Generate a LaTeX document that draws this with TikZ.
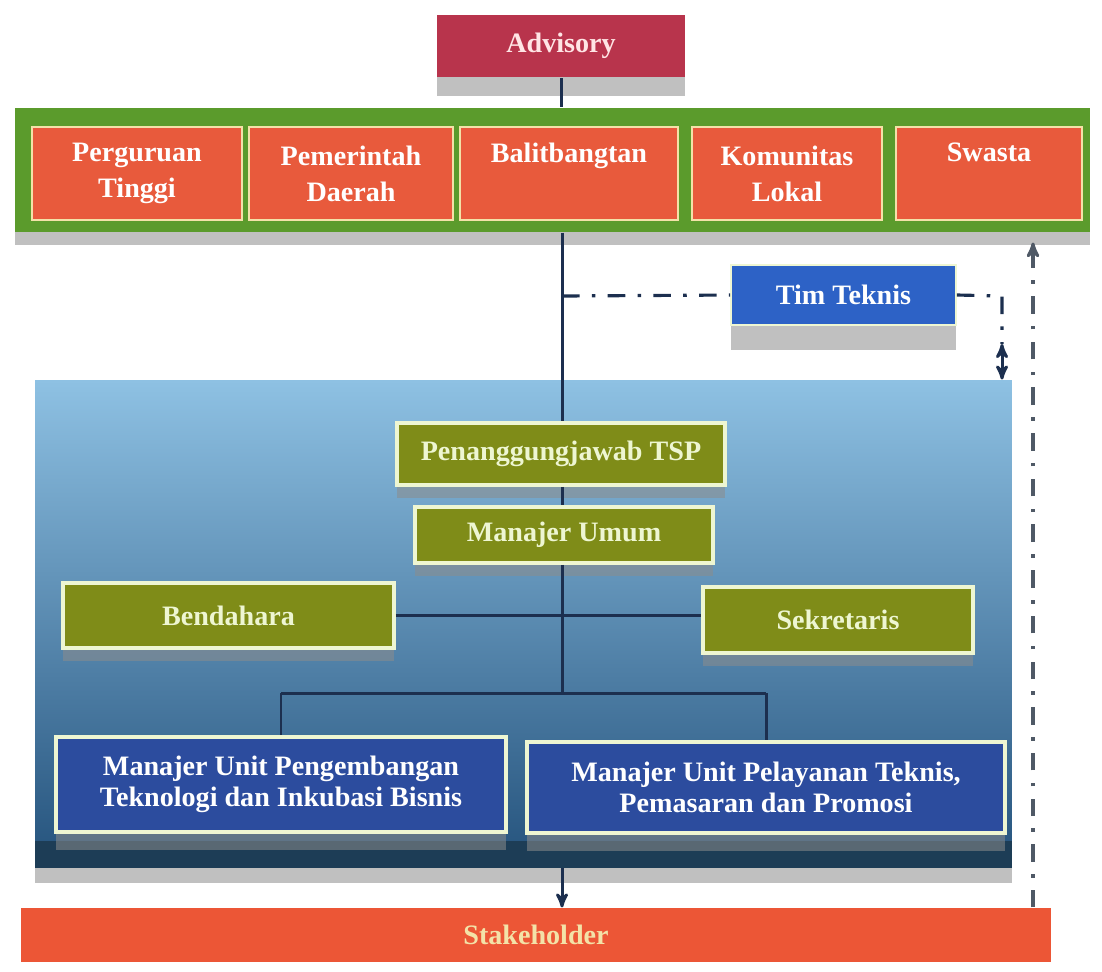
\documentclass[tikz,border=0pt]{standalone}
\usepackage{fontspec}
\setmainfont{Liberation Serif}
\usetikzlibrary{arrows,positioning,shadows}

\definecolor{advred}{HTML}{B8344C}
\definecolor{bandgreen}{HTML}{5B9B2C}
\definecolor{orangefill}{HTML}{E85A3C}
\definecolor{orangeline}{HTML}{F3E2A8}
\definecolor{olivefill}{HTML}{7F8C18}
\definecolor{oliveline}{HTML}{EEF6D2}
\definecolor{unitblue}{HTML}{2C4C9E}
\definecolor{teknisblue}{HTML}{2D62C6}
\definecolor{paneltop}{HTML}{8EC1E3}
\definecolor{panelmid}{HTML}{5B93C2}
\definecolor{panelbot}{HTML}{24527C}
\definecolor{paneldark}{HTML}{1D3D56}
\definecolor{stakered}{HTML}{EC5636}
\definecolor{navyline}{HTML}{1C2F4F}
\definecolor{dashgray}{HTML}{4F5966}

\begin{document}
\begin{tikzpicture}[x=0.02cm, y=-0.02cm, >=stealth', semithick,
    box/.style={rectangle, inner sep=0pt, align=center, text=white,
        font=\bfseries\fontsize{16}{20.5}\selectfont},
    shade below/.style={general shadow={fill=black!45, opacity=.55, shadow yshift=#1}},
    orangebox/.style={box, fill=orangefill, draw=orangeline, line width=1.6pt, minimum height=1.86cm},
    olivebox/.style={box, fill=olivefill, draw=oliveline, line width=2.2pt, text=oliveline, shade below=-0.25cm},
    unitbox/.style={box, fill=unitblue, draw=oliveline, line width=2.2pt,
        font=\bfseries\fontsize{16}{17.5}\selectfont, shade below=-0.35cm},
    orgline/.style={draw=navyline, line width=1.7pt},
    dashline/.style={line width=1.8pt, dash pattern=on 10pt off 7pt on 2pt off 7pt}]

    \useasboundingbox (0,0) rectangle (1102,971);

    \node[box, fill=advred, minimum width=4.96cm, minimum height=1.26cm, shade below=-0.38cm,
          text=pink!40] (advisory) at (561,46) {Advisory};
    \node[rectangle, fill=bandgreen, minimum width=21.5cm, minimum height=2.48cm, shade below=-0.26cm]
          (band) at (552.5,170) {};
    \node[orangebox, minimum width=4.2cm]  (pt)        at (137,173.5) {Perguruan\\Tinggi};
    \node[orangebox, minimum width=4.08cm] (pemda)     at (351,173.5) {Pemerintah\\Daerah};
    \node[orangebox, minimum width=4.36cm] (balit)     at (569,173.5) {Balitbangtan\\\phantom{Xg}};
    \node[orangebox, minimum width=3.8cm]  (komunitas) at (787,173.5) {Komunitas\\Lokal};
    \node[orangebox, minimum width=3.72cm] (swasta)    at (989,173.5) {Swasta\\\phantom{Xg}};

    \node[box, fill=teknisblue, draw=oliveline, line width=1pt, minimum width=4.5cm, minimum height=1.2cm,
          shade below=-0.5cm] (timteknis) at (843.5,295) {Tim Teknis};

    \node[rectangle, top color=paneltop, middle color=panelmid, bottom color=panelbot,
          minimum width=19.54cm, minimum height=9.76cm, shade below=-0.3cm] (panel) at (523.5,624) {};
    \fill[paneldark] (panel.south west) rectangle ([yshift=0.56cm]panel.south east);

    \node[olivebox, minimum width=6.56cm, minimum height=1.24cm] (pj)         at (561,454)    {Penanggungjawab TSP};
    \node[olivebox, minimum width=5.96cm, minimum height=1.12cm] (umum)       at (564,535)    {Manajer Umum};
    \node[olivebox, minimum width=6.62cm, minimum height=1.3cm]  (bendahara)  at (228.5,615.5) {Bendahara};
    \node[olivebox, minimum width=5.4cm,  minimum height=1.32cm] (sekretaris) at (838,620)    {Sekretaris};
    \node[unitbox, minimum width=9.0cm,  minimum height=1.9cm]  (unitpt) at (281,784.5)
          {Manajer Unit Pengembangan\\Teknologi dan Inkubasi Bisnis};
    \node[unitbox, minimum width=9.56cm, minimum height=1.82cm] (unitpp) at (766,787.5)
          {Manajer Unit Pelayanan Teknis,\\Pemasaran dan Promosi};

    \node[box, fill=stakered, minimum width=20.6cm, minimum height=1.08cm, text=orangeline]
          (stakeholder) at (536,935) {Stakeholder};

    \coordinate (ttjoin)   at (562,296);
    \coordinate (ttcorner) at (1002,296);
    \coordinate (ttarrow)  at (1002,344);
    \coordinate (fork)     at (562,693);
    \coordinate (rline)    at (1033,0);

    \path[orgline] (advisory.south) edge (advisory.south |- band.north)
                   (band.south -| ttjoin) edge (pj.north -| ttjoin)
                   (pj.south -| ttjoin) edge (umum.north -| ttjoin)
                   (umum.south -| ttjoin) edge (fork)
                   (bendahara.east) edge (bendahara.east -| sekretaris.west)
                   (unitpt.north |- fork) edge (unitpp.north |- fork)
                   (unitpt.north |- fork) edge (unitpt.north)
                   (unitpp.north |- fork) edge (unitpp.north);
    \draw[orgline, ->] (panel.south -| ttjoin) -- (stakeholder.north -| ttjoin);

    \draw[dashline, draw=navyline] (ttjoin) -- (timteknis.west);
    \draw[dashline, draw=navyline] (timteknis.east) -- (ttcorner) -- (ttarrow);
    \draw[navyline, line width=1.7pt, <->] (ttarrow) -- (ttarrow |- panel.north);
    \draw[dashline, draw=dashgray, ->] (stakeholder.north -| rline) -- ([yshift=-0.2cm]band.south -| rline);
\end{tikzpicture}
\end{document}
